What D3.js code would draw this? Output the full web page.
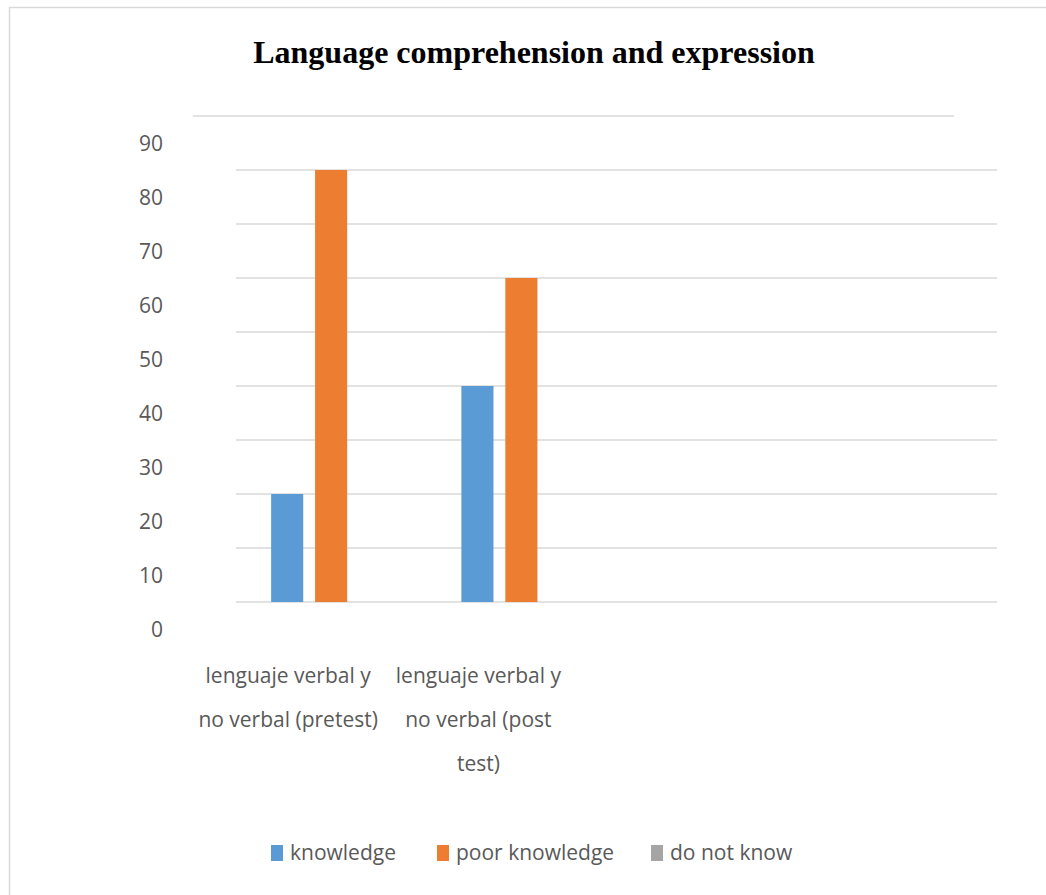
<!DOCTYPE html>
<html>
<head>
<meta charset="utf-8">
<script src="https://cdn.jsdelivr.net/npm/d3@7"></script>
<style>
  body { margin: 0; background: #fff; }
  svg { display: block; }
</style>
</head>
<body>
<svg width="1046" height="895"></svg>
<script>
// chart data
const categories = ['lenguaje verbal y no verbal (pretest)', 'lenguaje verbal y no verbal (post test)', '', ''];
// wrapped label lines, as the chart shows them
const categoryLines = [
  ['lenguaje verbal y', 'no verbal (pretest)'],
  ['lenguaje verbal y', 'no verbal (post', 'test)'],
  [],
  []
];
const seriesNames = ['knowledge', 'poor knowledge', 'do not know'];
const knowledgeValues = [20, 40, 0, 0];
const poorKnowledgeValues = [80, 60, 0, 0];
const doNotKnowValues = [0, 0, 0, 0];
const yTicks = [0, 10, 20, 30, 40, 50, 60, 70, 80, 90];

const colors = ['#5B9BD5', '#ED7D31', '#A5A5A5'];
const labelFont = '"Open Sans", sans-serif';

const svg = d3.select('svg');
const width = parseFloat(svg.attr('width'));
const height = parseFloat(svg.attr('height'));

// outer chart border (runs off the right and bottom edges)
svg.append('rect')
  .attr('x', 9.5).attr('y', 7.5)
  .attr('width', width + 20).attr('height', height + 20)
  .attr('fill', 'none')
  .attr('stroke', '#d9d9d9')
  .attr('stroke-width', 1.5);

// plot area
const plotLeft = 236, plotRight = 997;
const y = d3.scaleLinear().domain([0, 80]).range([602, 170]);
const x0 = d3.scaleBand().domain(d3.range(categories.length)).range([plotLeft, plotRight]);
const groupWidth = 120;
const x1 = d3.scaleBand().domain(d3.range(seriesNames.length))
  .range([0, groupWidth]).paddingInner(0.27);

// the text layer of this chart sits shifted from the plot layer
const textDx = -43, textDy = 28;

// gridlines
const grid = svg.append('g');
grid.selectAll('line.grid')
  .data(yTicks.filter(d => d <= 80))
  .join('line')
    .attr('class', 'grid')
    .attr('x1', plotLeft).attr('x2', plotRight)
    .attr('y1', d => y(d)).attr('y2', d => y(d))
    .attr('stroke', '#d9d9d9')
    .attr('stroke-width', 1.5);
// top gridline drawn with the shifted layer
grid.append('line')
  .attr('x1', plotLeft + textDx).attr('x2', plotRight + textDx)
  .attr('y1', y(90)).attr('y2', y(90))
  .attr('stroke', '#d9d9d9')
  .attr('stroke-width', 1.5);

// bars
const series = [knowledgeValues, poorKnowledgeValues, doNotKnowValues];
series.forEach((vals, si) => {
  svg.append('g')
    .selectAll('rect')
    .data(vals)
    .join('rect')
      .attr('x', (d, i) => x0(i) + x0.bandwidth() / 2 - groupWidth / 2 + x1(si))
      .attr('y', d => y(d))
      .attr('width', x1.bandwidth())
      .attr('height', d => y(0) - y(d))
      .attr('fill', colors[si]);
});

// y axis labels
const yAxis = svg.append('g')
  .attr('transform', `translate(163, ${textDy})`)
  .call(d3.axisLeft(y).tickValues(yTicks).tickSize(0).tickPadding(0));
yAxis.select('.domain').remove();
yAxis.selectAll('text')
  .attr('fill', '#595959')
  .style('font-family', labelFont)
  .style('font-size', '21px');

// category labels
const xl = svg.append('g');
categoryLines.forEach((lines, i) => {
  const cx = x0(i) + x0.bandwidth() / 2 + textDx;
  lines.forEach((ln, j) => {
    xl.append('text')
      .attr('x', cx)
      .attr('y', 683 + j * 44)
      .attr('text-anchor', 'middle')
      .attr('fill', '#595959')
      .style('font-family', labelFont)
      .style('font-size', '21px')
      .text(ln);
  });
});

// title
svg.append('text')
  .attr('x', 534)
  .attr('y', 63)
  .attr('text-anchor', 'middle')
  .attr('fill', '#000')
  .style('font-family', '"Liberation Serif", serif')
  .style('font-weight', 'bold')
  .style('font-size', '32px')
  .text('Language comprehension and expression');

// legend
const legendX = [271, 437, 651];
const legend = svg.append('g');
seriesNames.forEach((name, i) => {
  legend.append('rect')
    .attr('x', legendX[i]).attr('y', 845)
    .attr('width', 12).attr('height', 16)
    .attr('fill', colors[i]);
  legend.append('text')
    .attr('x', legendX[i] + 19)
    .attr('y', 860)
    .attr('fill', '#595959')
    .style('font-family', labelFont)
    .style('font-size', '21px')
    .text(name);
});
</script>
</body>
</html>
